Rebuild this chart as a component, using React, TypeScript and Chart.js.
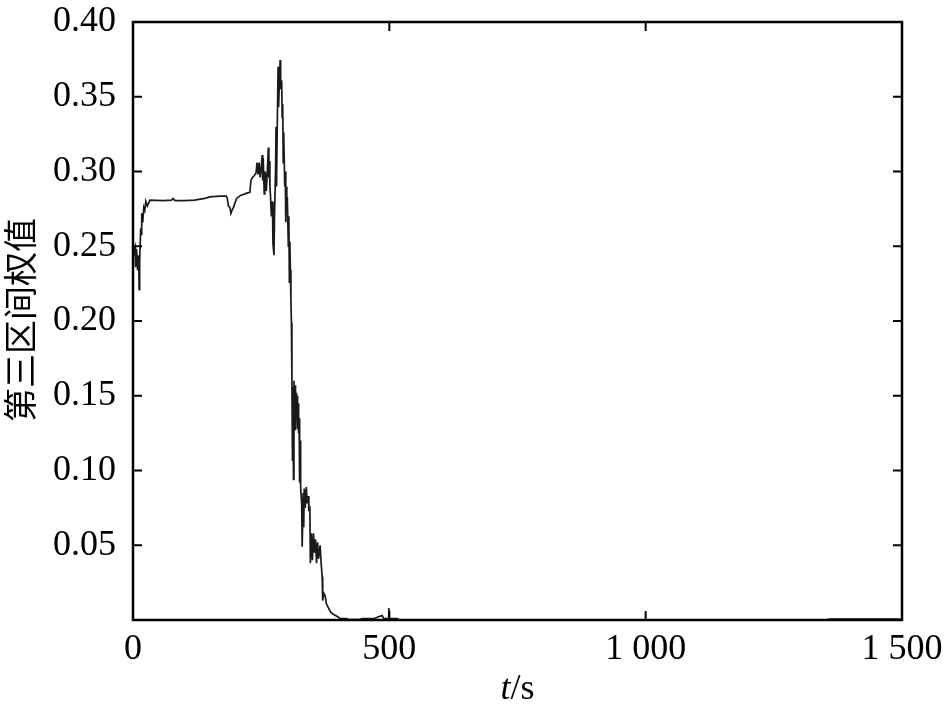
import React, { useEffect, useRef } from "react";
import { Chart, registerables } from "chart.js";

Chart.register(...registerables);

// Time (s)
const times: number[] = [
  0, 2, 4, 5, 7, 9, 11, 12, 13, 15, 16, 17, 19, 21, 23, 25, 28, 33, 60, 75, 78, 82, 100, 120, 140, 150, 170, 182,
  184, 186, 189, 191, 193, 196, 198, 202, 210, 222, 228, 230, 233, 236, 240, 242, 244, 246, 248, 250, 252, 253,
  254, 256, 257, 258, 260, 262, 264, 265, 266, 267, 268, 270, 272, 273, 275, 276, 278, 279, 280, 281, 283, 284,
  286, 287, 288, 290, 291, 292, 293, 294, 296, 297, 298, 299, 300, 301, 303, 304, 305, 306, 307, 308, 309, 310,
  311, 312, 313, 314, 315, 316, 317, 318, 319, 320, 321, 322, 323, 324, 325, 326, 327, 329, 330, 332, 333, 334,
  336, 338, 340, 342, 343, 345, 346, 348, 350, 352, 354, 356, 358, 360, 362, 365, 367, 369, 370, 372, 375, 377,
  380, 383, 386, 390, 395, 400, 404, 417, 420, 440, 447, 470, 486, 489, 492, 498, 499, 500, 515, 520, 1350, 1360,
  1495, 1500,
];

// Third-interval weight
const weights: number[] = [
  0.25, 0.246, 0.249, 0.236, 0.248, 0.234, 0.244, 0.221, 0.24, 0.262, 0.258, 0.272, 0.266, 0.276, 0.274, 0.28,
  0.277, 0.2808, 0.2805, 0.2808, 0.282, 0.2805, 0.2805, 0.2808, 0.282, 0.283, 0.2835, 0.2835, 0.282, 0.277,
  0.276, 0.272, 0.274, 0.276, 0.278, 0.282, 0.284, 0.2855, 0.286, 0.294, 0.296, 0.297, 0.299, 0.306, 0.298,
  0.306, 0.296, 0.302, 0.311, 0.294, 0.309, 0.285, 0.29, 0.3, 0.287, 0.3, 0.316, 0.296, 0.307, 0.29, 0.285, 0.27,
  0.28, 0.252, 0.244, 0.27, 0.3, 0.33, 0.29, 0.32, 0.37, 0.343, 0.365, 0.3746, 0.355, 0.361, 0.336, 0.345, 0.306,
  0.326, 0.29, 0.3, 0.266, 0.29, 0.275, 0.283, 0.25, 0.27, 0.226, 0.253, 0.234, 0.214, 0.199, 0.16, 0.107, 0.156,
  0.094, 0.16, 0.13, 0.157, 0.127, 0.152, 0.137, 0.15, 0.128, 0.145, 0.125, 0.135, 0.092, 0.12, 0.089, 0.078,
  0.049, 0.085, 0.062, 0.088, 0.075, 0.089, 0.078, 0.083, 0.074, 0.075, 0.038, 0.058, 0.04, 0.058, 0.045, 0.054,
  0.038, 0.052, 0.041, 0.05, 0.038, 0.029, 0.013, 0.018, 0.016, 0.011, 0.009, 0.007, 0.005, 0.004, 0.003, 0.002,
  0.001, 0.001, 0.0002, 0.0002, 0.001, 0.001, 0.003, 0.001, 0.001, 0.001, 0.008, 0.001, 0.001, 0.0, 0.0, 0.0006,
  0.0006, 0.0,
];

const xTicks: number[] = [0, 500, 1000, 1500];
const yTicks: number[] = [0.05, 0.1, 0.15, 0.2, 0.25, 0.3, 0.35, 0.4];
const yTitle = "第三区间权值";
const xTitleItalic = "t";
const xTitleRest = "/s";

const SERIF = "'Liberation Serif', 'Times New Roman', serif";

const fmtX = (v: number) => {
  const s = String(Math.round(v));
  return s.length > 3 ? s.slice(0, s.length - 3) + " " + s.slice(s.length - 3) : s;
};

const framePlugin = {
  id: "frame",
  afterDraw(chart: any) {
    const { ctx, chartArea } = chart;
    const { left, right, top, bottom } = chartArea;
    const xs = chart.scales.x;
    const ys = chart.scales.y;
    ctx.save();
    ctx.strokeStyle = "#000";
    ctx.lineWidth = 2.5;
    ctx.strokeRect(left, top, right - left, bottom - top);
    ctx.lineWidth = 2;
    const tl = 9;
    ctx.beginPath();
    xTicks.forEach((v) => {
      const px = xs.getPixelForValue(v);
      ctx.moveTo(px, bottom);
      ctx.lineTo(px, bottom - tl);
      ctx.moveTo(px, top);
      ctx.lineTo(px, top + tl);
    });
    yTicks.forEach((v) => {
      const py = ys.getPixelForValue(v);
      ctx.moveTo(left, py);
      ctx.lineTo(left + tl, py);
      ctx.moveTo(right, py);
      ctx.lineTo(right - tl, py);
    });
    ctx.stroke();

    // y title
    ctx.fillStyle = "#000";
    ctx.save();
    ctx.translate(20, 320);
    ctx.rotate(-Math.PI / 2);
    ctx.font = "34px 'Noto Sans CJK SC'";
    ctx.textAlign = "center";
    ctx.textBaseline = "middle";
    ctx.fillText(yTitle, 0, 0);
    ctx.restore();

    // x title
    ctx.textBaseline = "alphabetic";
    ctx.textAlign = "left";
    ctx.font = "italic 36px " + SERIF;
    const w1 = ctx.measureText(xTitleItalic).width;
    ctx.font = "36px " + SERIF;
    const w2 = ctx.measureText(xTitleRest).width;
    const cx = (left + right) / 2;
    const x0 = cx - (w1 + w2) / 2;
    const by = 699;
    ctx.font = "italic 36px " + SERIF;
    ctx.fillText(xTitleItalic, x0, by);
    ctx.font = "36px " + SERIF;
    ctx.fillText(xTitleRest, x0 + w1, by);
    ctx.restore();
  },
};

export default function App() {
  const ref = useRef<HTMLCanvasElement | null>(null);

  useEffect(() => {
    document.body.style.margin = "0";
    const canvas = ref.current;
    if (!canvas) return;
    const points = times.map((t, i) => ({ x: t, y: weights[i] }));
    const chart = new Chart(canvas, {
      type: "line",
      data: {
        datasets: [
          {
            data: points,
            borderColor: "#1a1a1a",
            borderWidth: 1.7,
            pointRadius: 0,
            tension: 0,
            fill: false,
          },
        ],
      },
      options: {
        responsive: false,
        animation: false,
        layout: { padding: { top: 22, right: 43, left: 0, bottom: 0 } },
        plugins: { legend: { display: false }, tooltip: { enabled: false } },
        scales: {
          x: {
            type: "linear",
            min: 0,
            max: 1500,
            afterBuildTicks: (scale: any) => {
              scale.ticks = xTicks.map((v) => ({ value: v }));
            },
            afterFit: (scale: any) => {
              scale.height = 85;
              scale.paddingLeft = 0;
              scale.paddingRight = 0;
            },
            ticks: {
              callback: (v: any) => fmtX(Number(v)),
              font: { family: SERIF, size: 36 },
              color: "#000",
              padding: 8,
              maxRotation: 0,
              autoSkip: false,
            },
            grid: { display: false, drawTicks: false },
            border: { display: false },
          },
          y: {
            type: "linear",
            min: 0,
            max: 0.4,
            afterBuildTicks: (scale: any) => {
              scale.ticks = [0, ...yTicks].map((v) => ({ value: v }));
            },
            afterFit: (scale: any) => {
              scale.width = 133;
              scale.paddingTop = 0;
              scale.paddingBottom = 0;
            },
            ticks: {
              callback: (v: any) => (Number(v) === 0 ? "" : Number(v).toFixed(2)),
              font: { family: SERIF, size: 36 },
              color: "#000",
              padding: 17,
              autoSkip: false,
            },
            grid: { display: false, drawTicks: false },
            border: { display: false },
          },
        },
      },
      plugins: [framePlugin],
    });
    return () => chart.destroy();
  }, []);

  return (
    <div style={{ width: 945, height: 705, background: "#fff" }}>
      <canvas ref={ref} width={945} height={705} style={{ display: "block" }} />
    </div>
  );
}
